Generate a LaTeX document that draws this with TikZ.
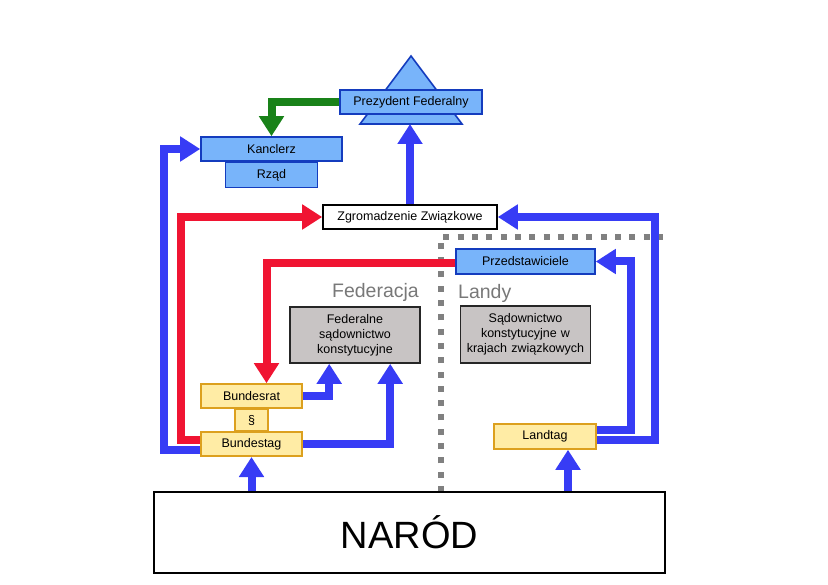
\documentclass[tikz,border=0pt]{standalone}
\usepackage{fontspec}
\setmainfont{Liberation Sans}
\usetikzlibrary{arrows.meta,positioning,shapes}
\definecolor{boxblue}{RGB}{120,180,250}
\definecolor{edgeblue}{RGB}{20,60,190}
\definecolor{arrowblue}{RGB}{55,60,245}
\definecolor{arrowred}{RGB}{240,20,50}
\definecolor{arrowgreen}{RGB}{25,130,25}
\definecolor{boxyellow}{RGB}{255,236,165}
\definecolor{edgeyellow}{RGB}{220,160,30}
\definecolor{boxgray}{RGB}{200,196,196}
\definecolor{labelgray}{RGB}{120,120,120}
\tikzset{
        x=1pt, y=-1pt, % pixel-like coordinates, y grows downwards
        font=\fontsize{12.5}{15}\selectfont, % text in the boxes
        every node/.style={inner sep=0pt, align=center},
        flow/.style={line width=8pt, -{Triangle[width=24pt,length=20pt]}}, % thick arrows
    }
\tikzstyle{bluebox}=[draw=edgeblue,fill=boxblue,line width=1.6pt]
\tikzstyle{yellowbox}=[draw=edgeyellow,fill=boxyellow,line width=1.6pt,minimum width=101pt,minimum height=24pt]
\tikzstyle{graybox}=[draw=black!85,fill=boxgray,line width=1.6pt,text width=130pt]
\tikzstyle{plainbox}=[draw=black,fill=white,line width=1.6pt]
\tikzstyle{bluearrow}=[flow,draw=arrowblue,color=arrowblue]
\tikzstyle{redarrow}=[flow,draw=arrowred,color=arrowred]
\tikzstyle{greenarrow}=[flow,draw=arrowgreen,color=arrowgreen]
\tikzstyle{divider}=[draw=gray,line width=6pt,dash pattern=on 6pt off 8.3pt]

\begin{document}
\begin{tikzpicture}
    \useasboundingbox (0,0) rectangle (828,585);

    % dividing line between the federation and the states
    \draw[divider] (441,492) -- (441,237) -- (663,237);

    % president
    \draw[bluebox] (411,56) -- (462,124) -- (360,124) -- cycle;
    \coordinate (prezbase) at (411,124);
    \node[bluebox,minimum width=142pt,minimum height=24pt] (prez) at (411,102) {Prezydent Federalny};

    % government
    \node[bluebox,minimum width=141pt,minimum height=24pt] (kanclerz) at (271.5,149) {Kanclerz};
    \node[bluebox,minimum width=92pt,minimum height=25pt,below=0pt of kanclerz] (rzad) {Rząd};

    \node[plainbox,minimum width=174pt,minimum height=24pt] (zgrom) at (410,217) {Zgromadzenie Związkowe};
    \node[bluebox,minimum width=139pt,minimum height=25pt] (przed) at (525.5,261.5) {Przedstawiciele};

    % labels of both sides
    \node[anchor=east,text=labelgray,font=\fontsize{19.5}{22}\selectfont] (federacja) at (419,292) {Federacja};
    \node[anchor=west,text=labelgray,font=\fontsize{19.5}{22}\selectfont] (landy) at (458,293) {Landy};

    % courts
    \node[graybox,minimum height=56pt] (fedsad) at (355,335) {Federalne\\sądownictwo\\konstytucyjne};
    \node[graybox,minimum height=57pt] (landsad) at (525.5,334.5) {Sądownictwo\\konstytucyjne w\\krajach związkowych};

    % parliaments
    \node[yellowbox] (bundesrat) at (251.5,396) {Bundesrat};
    \node[yellowbox,minimum width=33pt,minimum height=21pt,below=0pt of bundesrat] (para) {§};
    \node[yellowbox,below=0pt of para] (bundestag) {Bundestag};
    \node[yellowbox,minimum width=102pt,minimum height=25pt] (landtag) at (545,436.5) {Landtag};

    \node[plainbox,minimum width=511pt,minimum height=81pt,font=\fontsize{38}{40}\selectfont] (narod) at (409.5,532.5) {NARÓD};

    % connections
    \draw[greenarrow] (prez.west) -| (kanclerz.north);
    \draw[bluearrow] (zgrom.north) -- (zgrom.north |- prezbase);
    \draw[bluearrow] ([yshift=-6pt]bundestag.west) -- ++(-36,0) |- (kanclerz.west);
    \draw[redarrow] ([yshift=4pt]bundestag.west) -- ++(-19,0) |- (zgrom.west);
    \draw[redarrow] ([yshift=-1.5pt]przed.west) -| ([xshift=15pt]bundesrat.north);
    \draw[bluearrow] (bundesrat.east) -| ([xshift=40pt]fedsad.south west);
    \draw[bluearrow] (bundestag.east) -| ([xshift=101pt]fedsad.south west);
    \draw[bluearrow] (bundestag.south |- narod.north) -- (bundestag.south);
    \draw[bluearrow] ([xshift=23pt]landtag.south |- narod.north) -- ([xshift=23pt]landtag.south);
    \draw[bluearrow] ([yshift=6.5pt]landtag.east) -- ++(34,0) |- (przed.east);
    \draw[bluearrow] ([yshift=-3.5pt]landtag.east) -- ++(58,0) |- (zgrom.east);
\end{tikzpicture}
\end{document}
